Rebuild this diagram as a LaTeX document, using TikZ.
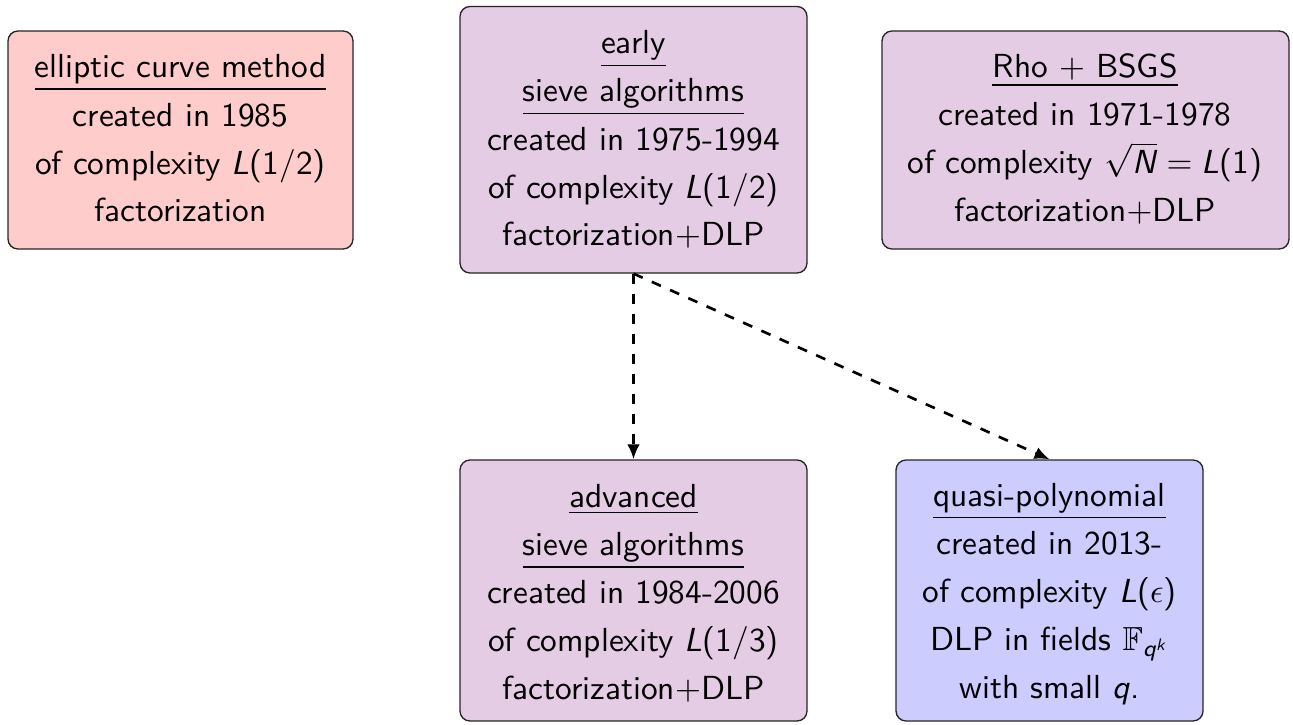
\documentclass[tikz,border=0pt]{standalone}
\usepackage{amssymb}
\usetikzlibrary{arrows.meta}
\newcommand\si[1]{\textit{#1}}
\newcommand\topstrut{\rule{0pt}{10pt}}
\begin{document}
\begin{tikzpicture}[x=0.3pt,y=-0.3pt,
  box/.style={draw=black!85, rounded corners=3pt, inner sep=0pt, line width=0.4pt},
  txt/.style={align=center, inner sep=0pt, anchor=north, font=\sffamily\fontsize{10}{14.4}\selectfont},
  conn/.style={dashed, line width=0.8pt, -{Latex[length=4.5pt,width=3.8pt]}}]
\useasboundingbox (0,0) rectangle (1293,724);
% boxes
\node[box, fill=red!20, minimum width=103.5pt, minimum height=65.4pt] (ecm) at (180.5,140) {};
\node[box, fill=violet!20, minimum width=104.1pt, minimum height=79.95pt] (early) at (633.5,139.75) {};
\node[box, fill=violet!20, minimum width=122.1pt, minimum height=65.4pt] (rho) at (1085.5,140) {};
\node[box, fill=violet!20, minimum width=104.1pt, minimum height=78.3pt] (adv) at (633.5,590.5) {};
\node[box, fill=blue!20, minimum width=92.1pt, minimum height=78.3pt] (qp) at (1049.5,590.5) {};
% texts
\node[txt] (ecmt) at (180.5,44)
  {\topstrut\underline{elliptic curve method}\\ created in 1985\\ of complexity \si{L}(1/2)\\ factorization};
\node[txt] (earlyt) at (633.5,20)
  {\topstrut\underline{early}\\ \underline{sieve algorithms}\\ created in 1975-1994\\ of complexity \si{L}(1/2)\\ factorization$+$DLP};
\node[txt] (rhot) at (1085,43.4)
  {\topstrut\underline{Rho $+$ BSGS}\\ created in 1971-1978\\ of complexity $\sqrt{\mbox{\si{N}}}=\mbox{}$\si{L}(1)\\ factorization$+$DLP};
\node[txt] (advt) at (633.5,473.4)
  {\topstrut\underline{advanced}\\ \underline{sieve algorithms}\\ created in 1984-2006\\ of complexity \si{L}(1/3)\\ factorization$+$DLP};
\node[txt] (qpt) at (1049.5,472)
  {\topstrut\underline{quasi-polynomial}\\ created in 2013-\\ of complexity \si{L}($\epsilon$)\\ DLP in fields $\mathbb{F}_{\mbox{\scriptsize\si{q}}^{\mbox{\tiny\si{k}}}}$\\ with small \si{q}.};
% connectors
\draw[conn] (early.south) -- (adv.north);
\draw[conn] (early.south) -- (qp.north);
\end{tikzpicture}
\end{document}
